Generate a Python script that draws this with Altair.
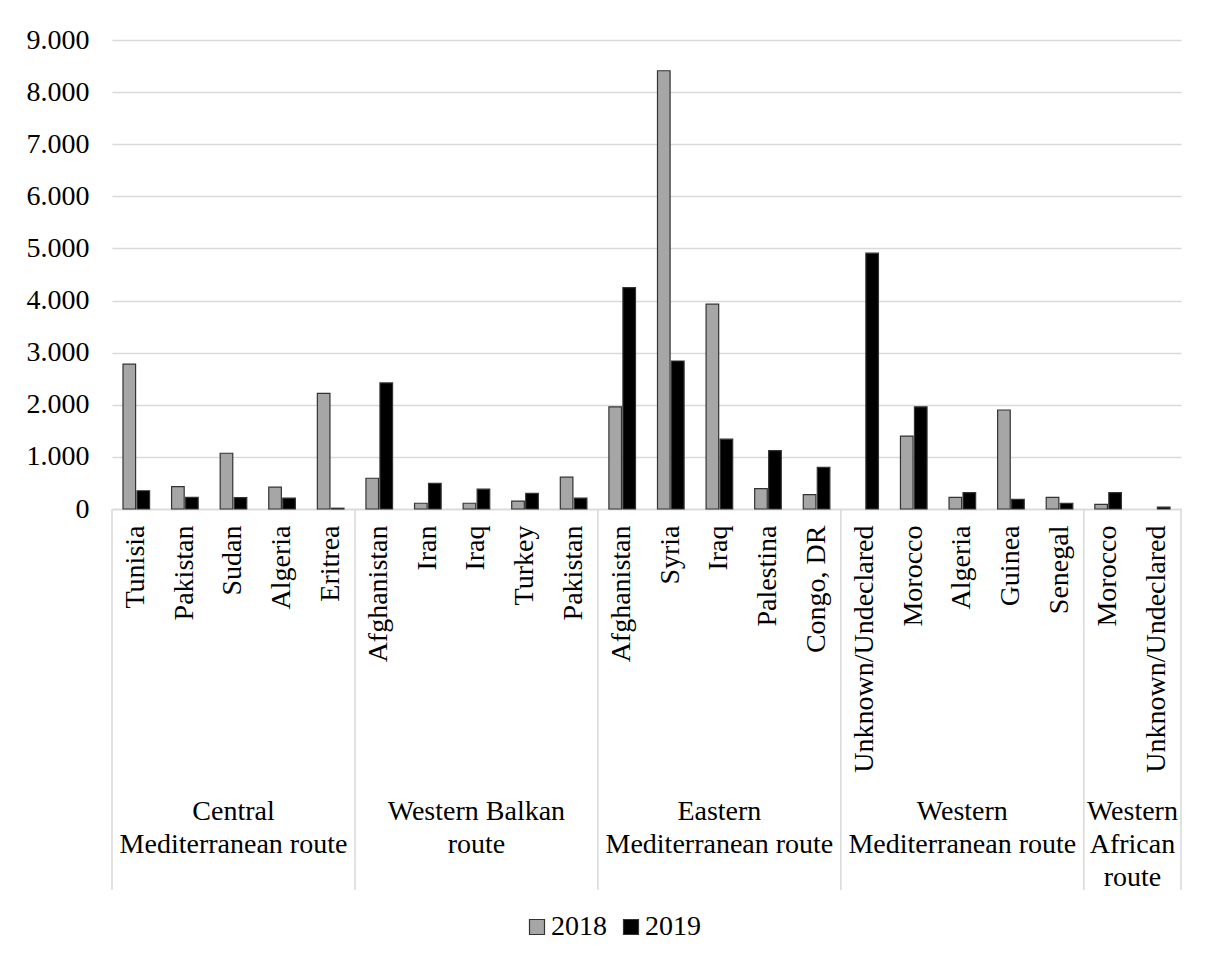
import altair as alt
import pandas as pd

# ---- data ----
routes = [
    "Central Mediterranean route",
    "Western Balkan route",
    "Eastern Mediterranean route",
    "Western Mediterranean route",
    "Western African route",
]
route_labels = [
    "Central\nMediterranean route",
    "Western Balkan\nroute",
    "Eastern\nMediterranean route",
    "Western\nMediterranean route",
    "Western\nAfrican\nroute",
]
countries = [
    ["Tunisia", "Pakistan", "Sudan", "Algeria", "Eritrea"],
    ["Afghanistan", "Iran", "Iraq", "Turkey", "Pakistan"],
    ["Afghanistan", "Syria", "Iraq", "Palestina", "Congo, DR"],
    ["Unknown/Undeclared", "Morocco", "Algeria", "Guinea", "Senegal"],
    ["Morocco", "Unknown/Undeclared"],
]
values_2018 = [2780, 430, 1070, 420, 2220,
               590, 110, 110, 150, 610,
               1960, 8410, 3930, 390, 275,
               0, 1400, 225, 1900, 225,
               90, 0]
values_2019 = [350, 225, 220, 210, 15,
               2420, 490, 380, 300, 210,
               4250, 2840, 1340, 1120, 800,
               4910, 1960, 315, 185, 110,
               315, 35]
years = ["2018", "2019"]
y_ticks = [0, 1000, 2000, 3000, 4000, 5000, 6000, 7000, 8000, 9000]

# ---- tables built from the lists ----
keys = []
rows = []
k = 0
for r, clist in zip(routes, countries):
    for c in clist:
        key = f"{r}|{c}"
        keys.append(key)
        rows.append({"key": key, "year": "2018", "value": values_2018[k]})
        rows.append({"key": key, "year": "2019", "value": values_2019[k]})
        k += 1
bars_df = pd.DataFrame(rows)

n_total = len(keys)
bounds = [0]
for clist in countries:
    bounds.append(bounds[-1] + len(clist))
div_df = pd.DataFrame({"pos": bounds})
lab_df = pd.DataFrame({
    "label": route_labels,
    "center": [(bounds[i] + bounds[i + 1]) / 2 for i in range(len(routes))],
})

FONT = "Liberation Serif"
W, H = 1069, 469

bars = alt.Chart(bars_df).transform_filter("datum.value > 0").mark_bar(
    stroke="#333333", strokeWidth=1.2
).encode(
    x=alt.X("key:N", sort=keys,
            scale=alt.Scale(domain=keys, paddingInner=0, paddingOuter=0),
            axis=alt.Axis(title=None, labelExpr="split(datum.label, '|')[1]",
                          labelAngle=270, ticks=False, labelPadding=16, labelLimit=0,
                          domainColor="#d9d9d9", domainWidth=1.5, grid=False,
                          labelFontSize=28, labelColor="#000000", labelFont=FONT)),
    xOffset=alt.XOffset("year:N", scale=alt.Scale(domain=years, paddingInner=0.1,
                                                  paddingOuter=0.785)),
    y=alt.Y("value:Q", scale=alt.Scale(domain=[0, 9000], nice=False),
            axis=alt.Axis(title=None, values=y_ticks, ticks=False, domain=False,
                          labelExpr="replace(format(datum.value, ','), ',', '.')",
                          gridColor="#d9d9d9", gridWidth=1.5, labelPadding=23,
                          labelFontSize=28, labelColor="#000000", labelFont=FONT)),
    color=alt.Color("year:N", scale=alt.Scale(domain=years, range=["#a6a6a6", "#000000"]),
                    legend=alt.Legend(title=None, orient="none", legendX=411, legendY=873,
                                      direction="horizontal", symbolType="square",
                                      symbolSize=225, symbolStrokeColor="#333333",
                                      symbolStrokeWidth=1.2, labelFontSize=28,
                                      labelFont=FONT, labelColor="#000000",
                                      columnPadding=10, labelOffset=0, padding=0)),
)

xq = alt.Scale(domain=[0, n_total], nice=False, zero=False)

dividers = alt.Chart(div_df).mark_rule(color="#d9d9d9", strokeWidth=1.5).encode(
    x=alt.X("pos:Q", scale=xq, axis=None),
    y=alt.value(H),
    y2=alt.value(850),
)

route_text = alt.Chart(lab_df).mark_text(
    font=FONT, fontSize=28, color="#000000", lineBreak="\n",
    baseline="top", align="center", lineHeight=33,
).encode(
    x=alt.X("center:Q", scale=xq, axis=None),
    y=alt.value(758),
    text="label:N",
)

chart = alt.layer(bars, dividers, route_text).resolve_scale(
    x="independent"
).properties(
    width=W, height=H,
    padding={"left": 104, "top": 32, "right": 16, "bottom": 441},
    autosize=alt.AutoSizeParams(type="none"),
).configure(font=FONT).configure_view(stroke=None)

chart.save("out.html", embed_options={"renderer": "svg", "actions": False})
